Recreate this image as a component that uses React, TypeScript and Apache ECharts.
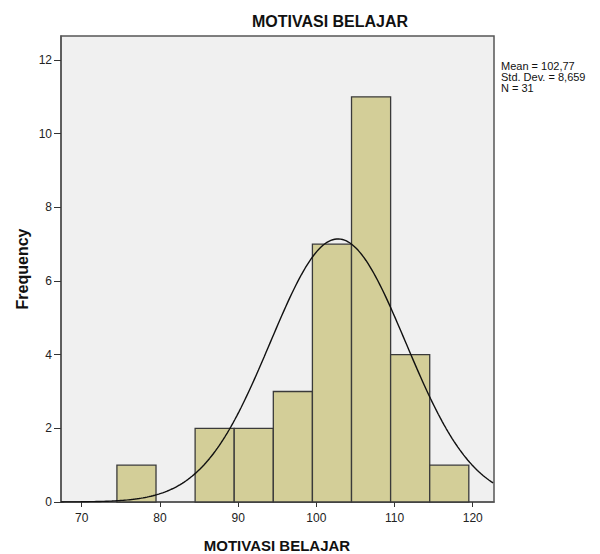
import React, { useEffect, useRef } from "react";
import * as echarts from "echarts";

const TITLE = "MOTIVASI BELAJAR";
const X_NAME = "MOTIVASI BELAJAR";
const Y_NAME = "Frequency";
const BIN_START = [74.5, 84.5, 89.5, 94.5, 99.5, 104.5, 109.5, 114.5];
const BIN_END = [79.5, 89.5, 94.5, 99.5, 104.5, 109.5, 114.5, 119.5];
const COUNTS = [1, 2, 2, 3, 7, 11, 4, 1];
const X_TICKS = [70, 80, 90, 100, 110, 120];
const Y_TICKS = [0, 2, 4, 6, 8, 10, 12];
const MEAN = 102.77;
const SD = 8.659;
const N = 31;
const BIN_WIDTH = 5;
const STATS_LINES = ["Mean = 102,77", "Std. Dev. = 8,659", "N = 31"];

const X_MIN = 67.35;
const X_MAX = 122.72;
const Y_MAX = 12.65;

// Fitted normal curve from the shown statistics (N * bin width * normal pdf)
const CURVE_X: number[] = [];
for (let x = X_MIN; x <= X_MAX + 1e-9; x += 0.25) CURVE_X.push(x);
const CURVE = CURVE_X.map((x) => [
  x,
  (N * BIN_WIDTH) / (SD * Math.sqrt(2 * Math.PI)) *
    Math.exp(-0.5 * ((x - MEAN) / SD) ** 2),
]);

const FONT = "'Liberation Sans', Arial, sans-serif";

export default function App() {
  const ref = useRef<HTMLDivElement>(null);
  useEffect(() => {
    if (!ref.current) return;
    const chart = echarts.init(ref.current, null, { renderer: "svg" });
    const bars = BIN_START.map((s, i) => [s, BIN_END[i], COUNTS[i]]);
    chart.setOption({
      animation: false,
      backgroundColor: "#ffffff",
      grid: {
        left: 61,
        right: 106,
        top: 36,
        bottom: 52,
        show: true,
        backgroundColor: "#f0f0f0",
        borderColor: "#555555",
        borderWidth: 1.5,
      },
      xAxis: {
        type: "value",
        min: X_MIN,
        max: X_MAX,
        splitLine: { show: false },
        axisLine: { show: true, lineStyle: { color: "#555555", width: 1.5 } },
        axisTick: {
          show: true,
          customValues: X_TICKS,
          length: 5,
          lineStyle: { color: "#333333", width: 1 },
        },
        axisLabel: {
          customValues: X_TICKS,
          color: "#222222",
          fontFamily: FONT,
          fontSize: 12,
          margin: 10,
        },
      },
      yAxis: {
        type: "value",
        min: 0,
        max: Y_MAX,
        splitLine: { show: false },
        axisLine: { show: true, lineStyle: { color: "#555555", width: 1.5 } },
        axisTick: {
          show: true,
          customValues: Y_TICKS,
          length: 7,
          lineStyle: { color: "#333333", width: 1 },
        },
        axisLabel: {
          customValues: Y_TICKS,
          color: "#222222",
          fontFamily: FONT,
          fontSize: 12,
          margin: 9,
        },
      },
      series: [
        {
          type: "custom",
          data: bars,
          encode: { x: [0, 1], y: 2 },
          renderItem: (params: any, api: any) => {
            const p0 = api.coord([api.value(0), api.value(2)]);
            const p1 = api.coord([api.value(1), 0]);
            return {
              type: "rect",
              shape: { x: p0[0], y: p0[1], width: p1[0] - p0[0], height: p1[1] - p0[1] },
              style: { fill: "#d3ce98", stroke: "#3a3a3a", lineWidth: 1.3 },
            };
          },
          z: 2,
        },
        {
          type: "line",
          data: CURVE,
          showSymbol: false,
          symbol: "none",
          smooth: false,
          clip: true,
          lineStyle: { color: "#111111", width: 1.4 },
          z: 3,
        },
      ],
      graphic: [
        {
          type: "text",
          x: 330,
          y: 21,
          style: {
            text: TITLE,
            font: `bold 16px ${FONT}`,
            fill: "#111111",
            textAlign: "center",
            textVerticalAlign: "middle",
          },
        },
        {
          type: "text",
          x: 277,
          y: 545,
          style: {
            text: X_NAME,
            font: `bold 15px ${FONT}`,
            fill: "#111111",
            textAlign: "center",
            textVerticalAlign: "middle",
          },
        },
        {
          type: "text",
          x: 22,
          y: 269,
          rotation: Math.PI / 2,
          style: {
            text: Y_NAME,
            font: `bold 16px ${FONT}`,
            fill: "#111111",
            textAlign: "center",
            textVerticalAlign: "middle",
          },
        },
        {
          type: "text",
          x: 501,
          y: 60,
          style: {
            text: STATS_LINES.join("\n"),
            font: `11px ${FONT}`,
            lineHeight: 11,
            fill: "#111111",
            textAlign: "left",
            textVerticalAlign: "top",
          },
        },
      ],
    });
    return () => chart.dispose();
  }, []);
  return (
    <div
      ref={ref}
      style={{ position: "absolute", left: 0, top: 0, width: 600, height: 554 }}
    />
  );
}
